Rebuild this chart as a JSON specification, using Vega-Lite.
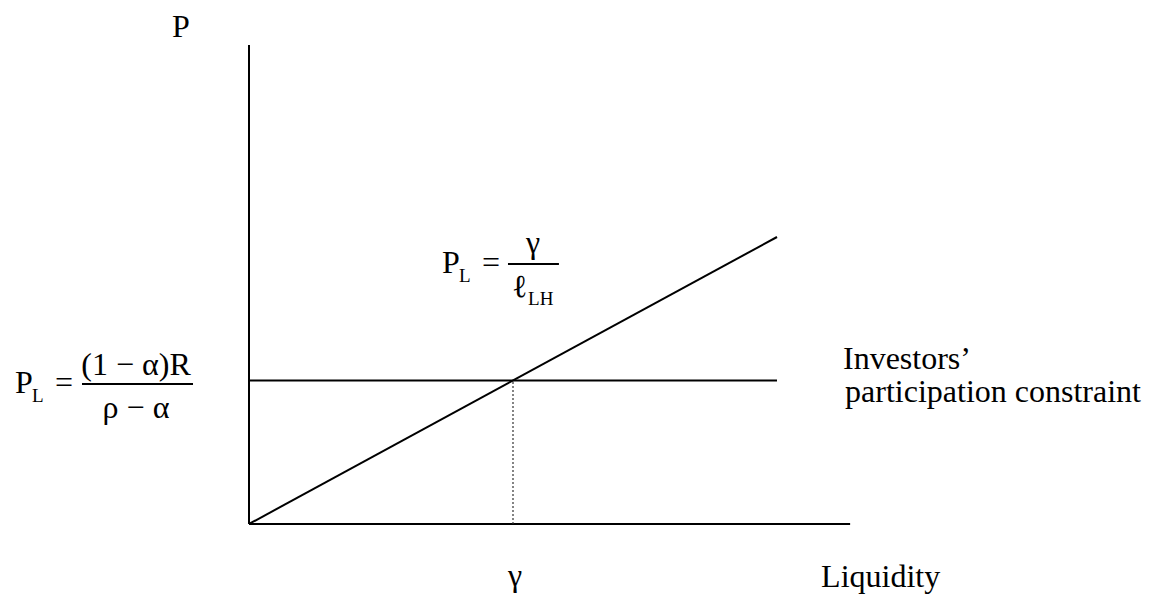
{
  "$schema": "https://vega.github.io/schema/vega-lite/v6.json",
  "width": 1150,
  "height": 602,
  "padding": 0,
  "autosize": {"type": "fit", "contains": "padding"},
  "background": "white",
  "config": {"view": {"stroke": null}, "text": {"font": "Liberation Serif", "color": "black"}},
  "datasets": {
    "segments": [
      {"kind": "axis", "x": 0, "y": 0, "x2": 0, "y2": 3.338},
      {"kind": "axis", "x": 0, "y": 0, "x2": 2.277, "y2": 0},
      {"kind": "curve", "x": 0, "y": 1, "x2": 2, "y2": 1},
      {"kind": "curve", "x": 0, "y": 0, "x2": 2, "y2": 2},
      {"kind": "frac", "x": -0.6326, "y": 0.9756, "x2": -0.2121, "y2": 0.9756},
      {"kind": "frac", "x": 0.981, "y": 1.812, "x2": 1.174, "y2": 1.812},
      {"kind": "dotted", "x": 1, "y": 0, "x2": 1, "y2": 1}
    ],
    "texts": [
      {"kind": "main", "align": "left", "x": -0.2917, "y": 3.394, "label": "P"},
      {"kind": "main", "align": "center", "x": 1.0076, "y": -0.432, "label": "γ"},
      {"kind": "main", "align": "left", "x": 2.167, "y": -0.439, "label": "Liquidity"},
      {"kind": "main", "align": "left", "x": 2.25, "y": 1.082, "label": "Investors’"},
      {"kind": "main", "align": "left", "x": 2.258, "y": 0.848, "label": "participation constraint"},
      {"kind": "main", "align": "left", "x": -0.886, "y": 0.913, "label": "P"},
      {"kind": "sub", "align": "left", "x": -0.822, "y": 0.85, "label": "L"},
      {"kind": "main", "align": "left", "x": -0.735, "y": 0.913, "label": "="},
      {"kind": "main", "align": "center", "x": -0.428, "y": 1.038, "label": "(1 − α)R"},
      {"kind": "main", "align": "center", "x": -0.428, "y": 0.739, "label": "ρ − α"},
      {"kind": "main", "align": "left", "x": 0.731, "y": 1.749, "label": "P"},
      {"kind": "sub", "align": "left", "x": 0.795, "y": 1.686, "label": "L"},
      {"kind": "main", "align": "left", "x": 0.883, "y": 1.749, "label": "="},
      {"kind": "main", "align": "center", "x": 1.076, "y": 1.889, "label": "γ"},
      {"kind": "main", "align": "left", "x": 0.996, "y": 1.582, "label": "ℓ"},
      {"kind": "sub", "align": "left", "x": 1.057, "y": 1.526, "label": "LH"}
    ]
  },
  "layer": [
    {
      "data": {"name": "segments"},
      "transform": [{"filter": "datum.kind !== 'dotted'"}],
      "mark": {"type": "rule", "color": "black", "strokeWidth": 2},
      "encoding": {
        "x": {"field": "x", "type": "quantitative", "scale": {"domain": [-0.9432, 3.4129], "nice": false, "zero": false}, "axis": null},
        "y": {"field": "y", "type": "quantitative", "scale": {"domain": [-0.5436, 3.6516], "nice": false, "zero": false}, "axis": null},
        "x2": {"field": "x2"},
        "y2": {"field": "y2"}
      }
    },
    {
      "data": {"name": "segments"},
      "transform": [{"filter": "datum.kind === 'dotted'"}],
      "mark": {"type": "rule", "color": "#333333", "strokeWidth": 1.2, "strokeDash": [2, 2]},
      "encoding": {
        "x": {"field": "x", "type": "quantitative", "scale": {"domain": [-0.9432, 3.4129], "nice": false, "zero": false}, "axis": null},
        "y": {"field": "y", "type": "quantitative", "scale": {"domain": [-0.5436, 3.6516], "nice": false, "zero": false}, "axis": null},
        "x2": {"field": "x2"},
        "y2": {"field": "y2"}
      }
    },
    {
      "data": {"name": "texts"},
      "transform": [{"filter": "datum.kind === 'main' && datum.align === 'left'"}],
      "mark": {"type": "text", "fontSize": 32, "align": "left", "baseline": "alphabetic"},
      "encoding": {
        "x": {"field": "x", "type": "quantitative", "scale": {"domain": [-0.9432, 3.4129], "nice": false, "zero": false}, "axis": null},
        "y": {"field": "y", "type": "quantitative", "scale": {"domain": [-0.5436, 3.6516], "nice": false, "zero": false}, "axis": null},
        "text": {"field": "label"}
      }
    },
    {
      "data": {"name": "texts"},
      "transform": [{"filter": "datum.kind === 'main' && datum.align === 'center'"}],
      "mark": {"type": "text", "fontSize": 32, "align": "center", "baseline": "alphabetic"},
      "encoding": {
        "x": {"field": "x", "type": "quantitative", "scale": {"domain": [-0.9432, 3.4129], "nice": false, "zero": false}, "axis": null},
        "y": {"field": "y", "type": "quantitative", "scale": {"domain": [-0.5436, 3.6516], "nice": false, "zero": false}, "axis": null},
        "text": {"field": "label"}
      }
    },
    {
      "data": {"name": "texts"},
      "transform": [{"filter": "datum.kind === 'sub'"}],
      "mark": {"type": "text", "fontSize": 19, "align": "left", "baseline": "alphabetic"},
      "encoding": {
        "x": {"field": "x", "type": "quantitative", "scale": {"domain": [-0.9432, 3.4129], "nice": false, "zero": false}, "axis": null},
        "y": {"field": "y", "type": "quantitative", "scale": {"domain": [-0.5436, 3.6516], "nice": false, "zero": false}, "axis": null},
        "text": {"field": "label"}
      }
    }
  ]
}
